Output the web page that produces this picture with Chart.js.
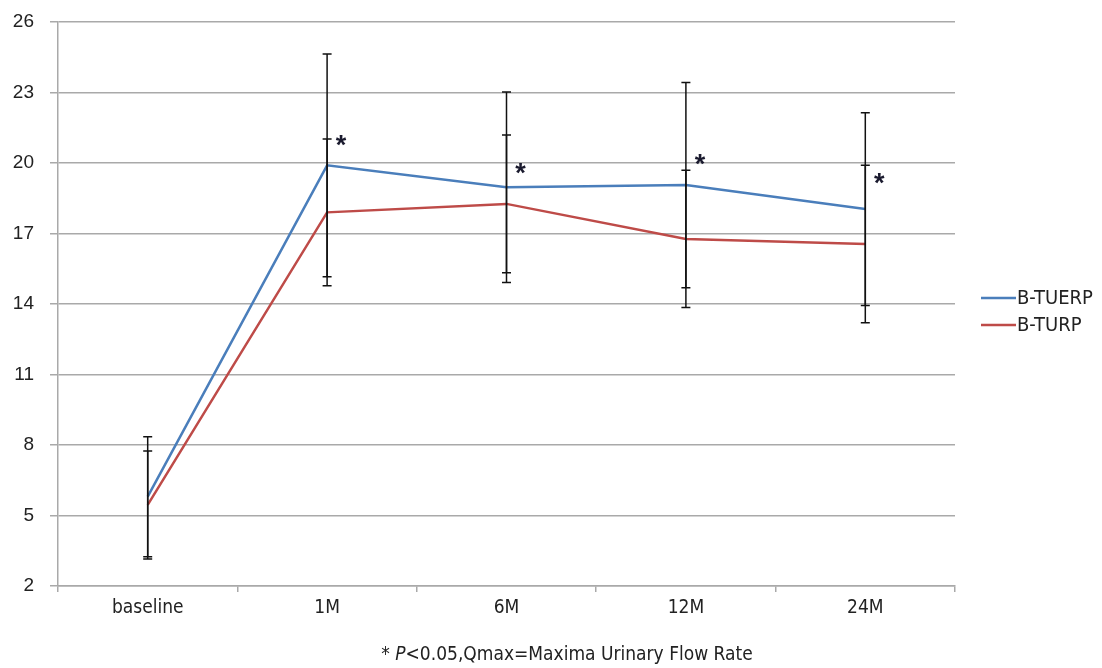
<!DOCTYPE html>
<html lang="en">
<head>
    <meta charset="UTF-8">
    <title>Qmax</title>
    <script src="https://cdn.jsdelivr.net/npm/chart.js"></script>
    <style>
        body { margin: 0; background: #fff; }
        #wrap { position: relative; width: 1102px; height: 668px; }
        #note {
            position: absolute; left: 0; width: 1134px; top: 642px;
            text-align: center; font: 19px "DejaVu Sans Condensed", sans-serif; color: #222;
        }
    </style>
</head>
<body>
<div id="wrap">
    <canvas id="myChart" width="1102" height="668"></canvas>
    <div id="note">* <i>P</i>&lt;0.05,Qmax=Maxima Urinary Flow Rate</div>
</div>
<script>
    // data
    const labels = ['baseline', '1M', '6M', '12M', '24M'];
    const tuerp = [5.8, 19.9, 18.97, 19.06, 18.04];
    const tuerpErr = [2.55, 4.74, 4.05, 4.37, 4.1];
    const turp = [5.45, 17.9, 18.26, 16.77, 16.55];
    const turpErr = [2.3, 3.12, 2.93, 2.92, 3.35];
    const starY = [null, 20.98, 19.79, 20.21, 19.36];
    const yTicks = [2, 5, 8, 11, 14, 17, 20, 23, 26];

    const narrow = '"DejaVu Sans Condensed", sans-serif';
    const gridGray = '#a9a9a9';

    // error bars + asterisks + legend
    const extras = {
        id: 'extras',
        afterDatasetsDraw(chart) {
            const ctx = chart.ctx;
            const xs = chart.scales.x, ys = chart.scales.y;
            ctx.save();
            ctx.strokeStyle = '#111';
            ctx.lineWidth = 1.5;
            const sets = [[tuerp, tuerpErr], [turp, turpErr]];
            sets.forEach(([vals, errs]) => {
                vals.forEach((v, i) => {
                    const x = xs.getPixelForValue(i);
                    const top = ys.getPixelForValue(v + errs[i]);
                    const bot = ys.getPixelForValue(v - errs[i]);
                    ctx.beginPath();
                    ctx.moveTo(x, top); ctx.lineTo(x, bot);
                    ctx.moveTo(x - 4.5, top); ctx.lineTo(x + 4.5, top);
                    ctx.moveTo(x - 4.5, bot); ctx.lineTo(x + 4.5, bot);
                    ctx.stroke();
                });
            });
            ctx.fillStyle = '#1a1a2e';
            ctx.font = 'bold 27px "Liberation Sans", sans-serif';
            ctx.textAlign = 'center';
            ctx.textBaseline = 'middle';
            starY.forEach((v, i) => {
                if (v === null) return;
                ctx.fillText('*', xs.getPixelForValue(i) + 14, ys.getPixelForValue(v) + 7);
            });
            // legend
            ctx.font = '20px ' + narrow;
            ctx.textAlign = 'left';
            ctx.fillStyle = '#222';
            chart.data.datasets.forEach((ds, k) => {
                const y = 298 + k * 27;
                ctx.strokeStyle = ds.borderColor;
                ctx.lineWidth = 2.5;
                ctx.beginPath();
                ctx.moveTo(981, y); ctx.lineTo(1016, y);
                ctx.stroke();
                ctx.fillText(ds.label, 1017, y + 1);
            });
            ctx.restore();
        }
    };

    new Chart(document.getElementById('myChart'), {
        type: 'line',
        data: {
            labels: labels,
            datasets: [
                { label: 'B-TUERP', data: tuerp, borderColor: '#4a7ebb', borderWidth: 2.5, pointRadius: 0, tension: 0 },
                { label: 'B-TURP', data: turp, borderColor: '#be4b48', borderWidth: 2.5, pointRadius: 0, tension: 0 }
            ]
        },
        options: {
            responsive: false,
            animation: false,
            layout: { padding: { left: 0, top: 22, right: 147, bottom: 0 } },
            plugins: { legend: { display: false }, tooltip: { enabled: false } },
            scales: {
                x: {
                    offset: true,
                    afterFit: s => { s.height = 82; },
                    grid: { offset: true, drawOnChartArea: false, color: gridGray, tickLength: 6, lineWidth: 1.5 },
                    border: { color: gridGray, width: 1.5 },
                    ticks: { color: '#222', padding: 5, font: { family: narrow, size: 19 } }
                },
                y: {
                    min: 2, max: 26,
                    afterFit: s => { s.width = 58; s.paddingTop = 0; s.paddingBottom = 0; },
                    afterBuildTicks: s => { s.ticks = yTicks.map(v => ({ value: v })); },
                    grid: { color: gridGray, tickLength: 8, lineWidth: 1.5 },
                    border: { color: gridGray, width: 1.5 },
                    ticks: { color: '#222', padding: 16, font: { family: '"Liberation Sans", Arial, sans-serif', size: 19 } }
                }
            }
        },
        plugins: [extras]
    });
</script>
</body>
</html>
